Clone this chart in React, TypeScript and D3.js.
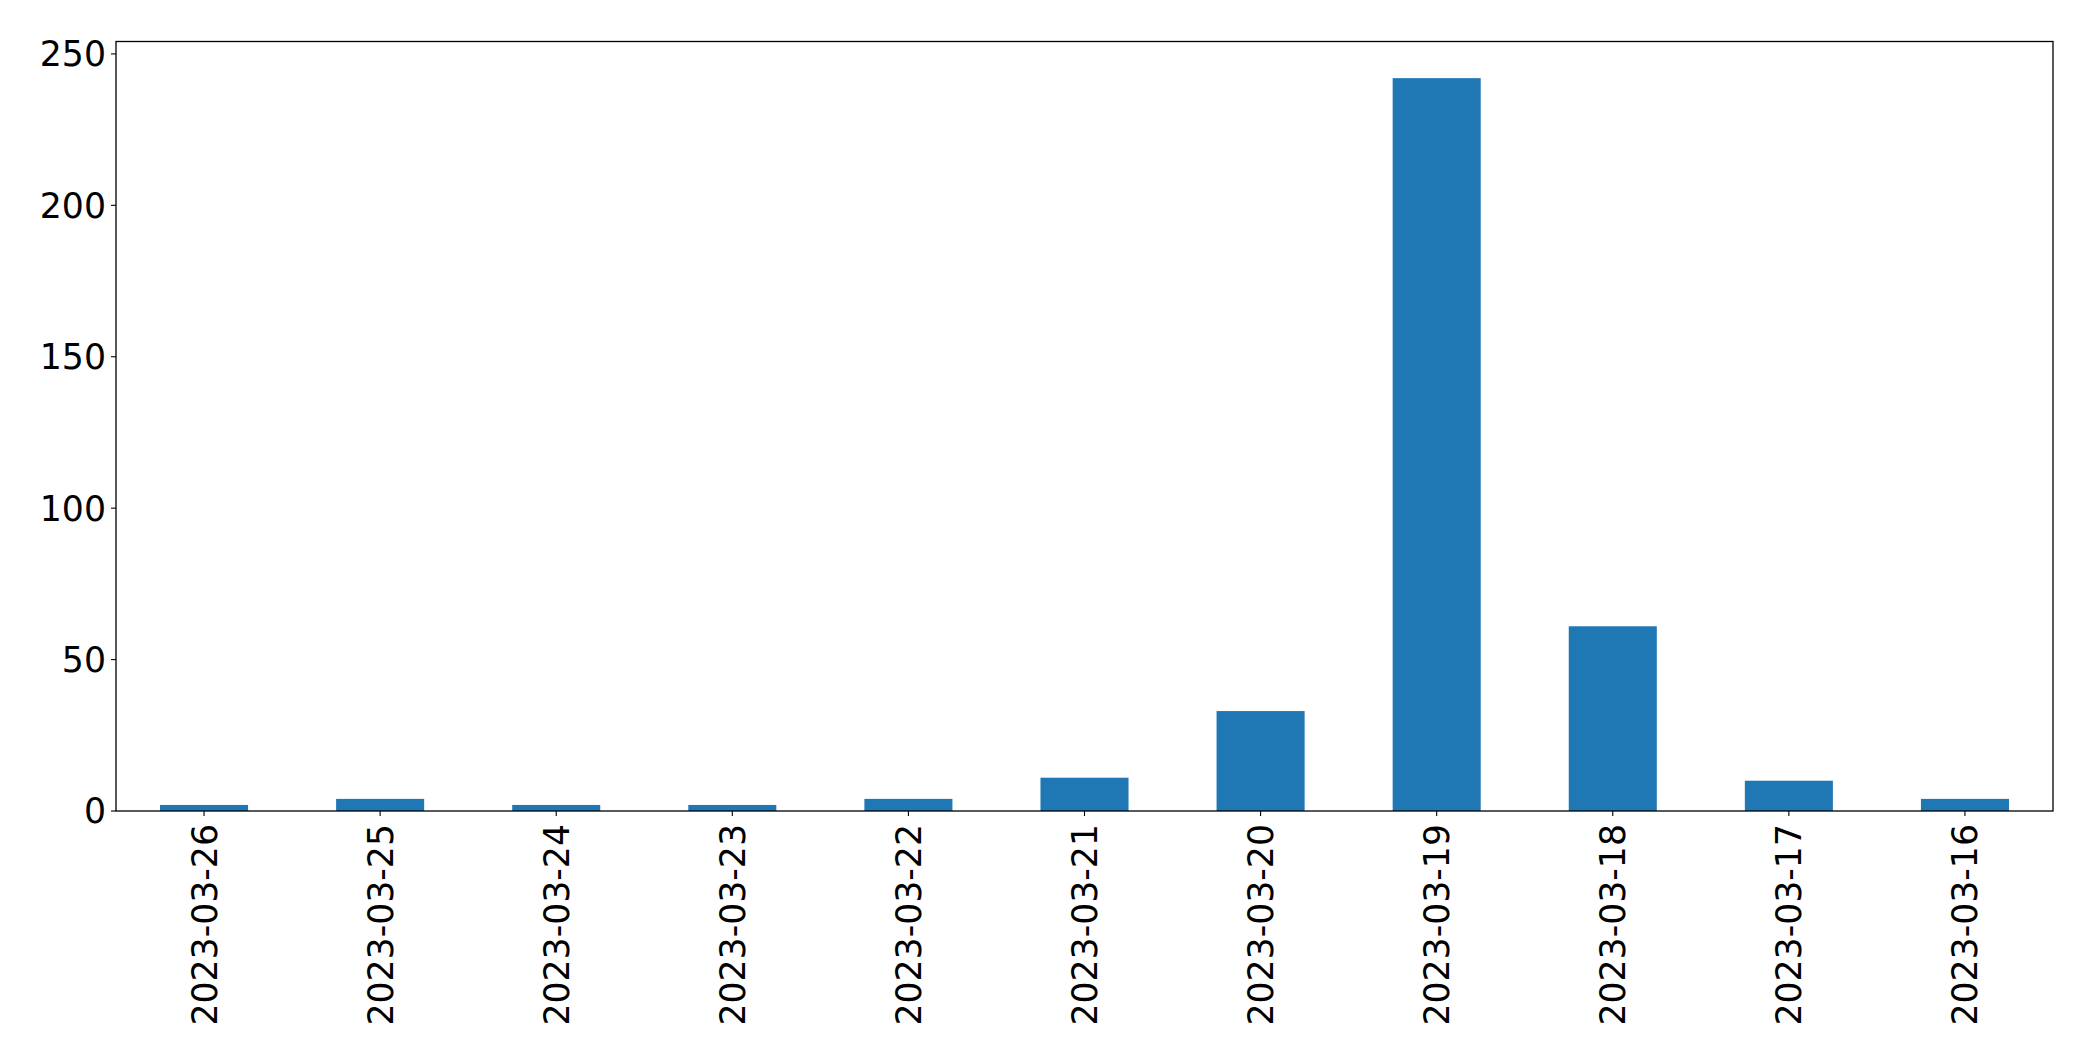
import React from "react";
import * as d3 from "d3";

const categories = [
  "2023-03-26", "2023-03-25", "2023-03-24", "2023-03-23", "2023-03-22", "2023-03-21",
  "2023-03-20", "2023-03-19", "2023-03-18", "2023-03-17", "2023-03-16",
];
const values = [2, 4, 2, 2, 4, 11, 33, 242, 61, 10, 4];
const yTicks = [0, 50, 100, 150, 200, 250];

const W = 2093;
const H = 1063;
const M = { left: 116, right: 2053, top: 41.5, bottom: 811 };
const FONT = "DejaVu Sans";
const FS = 34.7;

export default function App() {
  const x = d3.scaleBand<string>().domain(categories).range([M.left, M.right]).paddingInner(0.5).paddingOuter(0.25);
  const y = d3.scaleLinear().domain([0, d3.max(values)! * 1.05]).range([M.bottom, M.top]);

  return (
    <svg width={W} height={H} style={{ position: "absolute", left: 0, top: 0, background: "#fff" }}>
      <rect x={0} y={0} width={W} height={H} fill="#fff" />
      {categories.map((c, i) => (
        <rect key={c} x={x(c)} y={y(values[i])} width={x.bandwidth()} height={y(0) - y(values[i])} fill="#1f77b4" />
      ))}
      <rect x={M.left} y={M.top} width={M.right - M.left} height={M.bottom - M.top} fill="none" stroke="#000" strokeWidth={1.3} />
      {yTicks.map((t) => (
        <g key={t}>
          <line x1={M.left - 5} x2={M.left} y1={y(t)} y2={y(t)} stroke="#000" strokeWidth={1.1} />
          <text x={M.left - 10} y={y(t)} dy="0.36em" textAnchor="end" fontFamily={FONT} fontSize={FS} fill="#000">
            {t}
          </text>
        </g>
      ))}
      {categories.map((c) => {
        const cx = x(c)! + x.bandwidth() / 2;
        return (
          <g key={c}>
            <line x1={cx} x2={cx} y1={M.bottom} y2={M.bottom + 5} stroke="#000" strokeWidth={1.1} />
            <text
              transform={`translate(${cx},${M.bottom + 13}) rotate(-90)`}
              dy="0.36em"
              textAnchor="end"
              fontFamily={FONT}
              fontSize={FS}
              fill="#000"
            >
              {c}
            </text>
          </g>
        );
      })}
    </svg>
  );
}
